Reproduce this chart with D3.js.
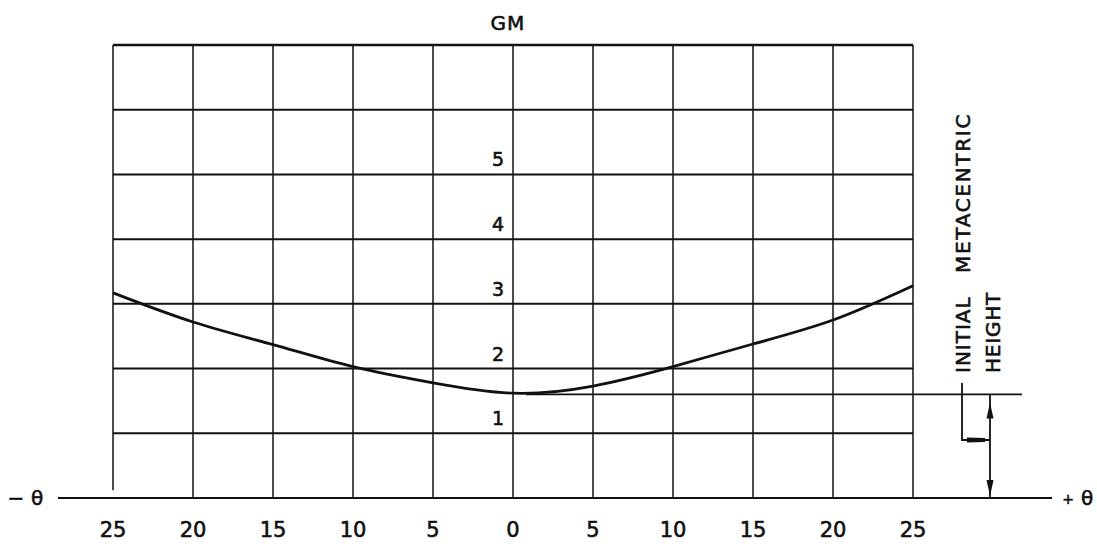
<!DOCTYPE html>
<html><head><meta charset="utf-8">
<script src="https://cdn.jsdelivr.net/npm/d3@7"></script>
<style>body{margin:0;background:#fff}svg{display:block}text{font-family:"DejaVu Sans",sans-serif;fill:#111;stroke:#111;stroke-width:0.6}</style>
</head><body><svg id="c" width="1097" height="546"></svg>
<script>
const angles = [-25,-20,-15,-10,-5,0,5,10,15,20,25];
const gm = [3.17,2.72,2.37,2.03,1.78,1.62,1.73,2.03,2.38,2.75,3.28];
const xTicks = [-25,-20,-15,-10,-5,0,5,10,15,20,25];
const yLines = [1,2,3,4,5,6,7];
const yLabels = [1,2,3,4,5];
const initialGM = 1.6;

const svg = d3.select("#c");
const x = d3.scaleLinear().domain([-25,25]).range([113,913]);
const y = d3.scaleLinear().domain([0,7]).range([498,45]);
const ink = "#111";

// vertical grid lines
svg.append("g").selectAll("line").data(xTicks).join("line")
  .attr("x1",d=>x(d)).attr("x2",d=>x(d))
  .attr("y1",y(7)).attr("y2",d=>d===-25?y(0.12):y(0))
  .attr("stroke",ink).attr("stroke-width",1.5);
// horizontal grid lines
svg.append("g").selectAll("line").data(yLines).join("line")
  .attr("x1",x(-25)).attr("x2",x(25))
  .attr("y1",d=>y(d)).attr("y2",d=>y(d))
  .attr("stroke",ink).attr("stroke-width",d=>d===7?2.4:2);
// baseline
svg.append("line").attr("x1",58).attr("x2",1052).attr("y1",y(0)).attr("y2",y(0))
  .attr("stroke",ink).attr("stroke-width",2);
// initial GM line
svg.append("line").attr("x1",x(0.8)).attr("x2",1022).attr("y1",y(initialGM)).attr("y2",y(initialGM))
  .attr("stroke",ink).attr("stroke-width",1.8);

// curve
const pts = angles.map((a,i)=>[a,gm[i]]);
svg.append("path").datum(pts)
  .attr("d",d3.line().x(d=>x(d[0])).y(d=>y(d[1])).curve(d3.curveNatural))
  .attr("fill","none").attr("stroke",ink).attr("stroke-width",2.8);

// x tick labels
svg.append("g").selectAll("text").data(xTicks).join("text")
  .attr("x",d=>x(d)).attr("y",537).attr("text-anchor","middle")
  .attr("font-size",21).text(d=>Math.abs(d));
// y labels
svg.append("g").selectAll("text").data(yLabels).join("text")
  .attr("x",x(0)-9).attr("y",d=>y(d)-8).attr("text-anchor","end")
  .attr("font-size",19).text(d=>d);

svg.append("text").attr("x",508).attr("y",30).attr("text-anchor","middle")
  .attr("font-size",20).attr("letter-spacing",1).text("GM");
svg.append("text").attr("x",16).attr("y",505).attr("text-anchor","middle")
  .attr("font-size",20).text("−");
svg.append("text").attr("x",37).attr("y",505).attr("text-anchor","middle")
  .attr("font-size",20).text("θ");
svg.append("text").attr("x",1068).attr("y",504).attr("text-anchor","middle")
  .attr("font-size",14).text("+");
svg.append("text").attr("x",1087).attr("y",505).attr("text-anchor","middle")
  .attr("font-size",20).text("θ");

// rotated annotations
svg.append("text").attr("transform","translate(970,373) rotate(-90)")
  .attr("font-size",20).attr("letter-spacing",1).text("INITIAL");
svg.append("text").attr("transform","translate(970,273) rotate(-90)")
  .attr("font-size",20).attr("letter-spacing",1.7).text("METACENTRIC");
svg.append("text").attr("transform","translate(1000,373) rotate(-90)")
  .attr("font-size",20).attr("letter-spacing",0.8).text("HEIGHT");

// dimension arrow
const ax = 990, ay1 = y(initialGM), ay2 = y(0);
svg.append("line").attr("x1",ax).attr("x2",ax).attr("y1",ay1).attr("y2",ay2)
  .attr("stroke",ink).attr("stroke-width",1.8);
svg.append("path").attr("d",`M${ax},${ay1+8} l-3.5,16 l7,0 z`).attr("fill",ink);
svg.append("path").attr("d",`M${ax},${ay2-2} l-3.5,-16 l7,0 z`).attr("fill",ink);
// leader
svg.append("path").attr("d",`M962,383 L962,440 L${ax},440`).attr("fill","none")
  .attr("stroke",ink).attr("stroke-width",1.8);
svg.append("path").attr("d",`M967,437.5 l18,0.5 l0,4 l-18,0.5 z`).attr("fill",ink);
</script></body></html>
